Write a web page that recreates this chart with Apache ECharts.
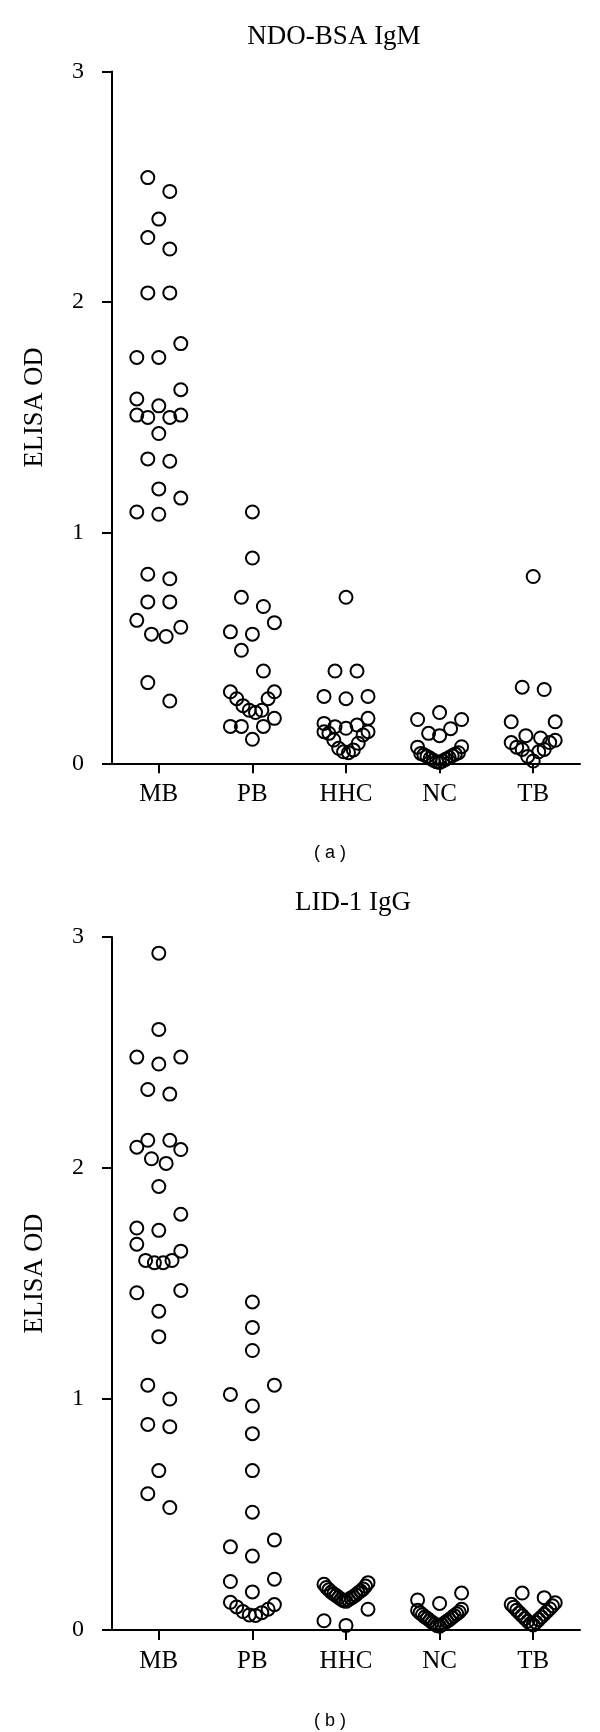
<!DOCTYPE html>
<html>
<head>
<meta charset="utf-8">
<script src="https://cdn.jsdelivr.net/npm/echarts@6/dist/echarts.min.js"></script>
<style>
html,body{margin:0;padding:0;background:#ffffff;}
#chart{width:600px;height:1732px;}
</style>
</head>
<body>
<div id="chart"></div>
<script>
// ---------- data ----------
const categories = ['MB', 'PB', 'HHC', 'NC', 'TB'];
const yTickValues = [0, 1, 2, 3];
const panelTitles = ['NDO-BSA IgM', 'LID-1 IgG'];
const panelLetters = ['( a )', '( b )'];
const yAxisTitle = 'ELISA OD';

// (a) NDO-BSA IgM
const ndoMB = [2.54, 2.48, 2.36, 2.28, 2.23, 2.04, 2.04, 1.82, 1.76, 1.76, 1.62, 1.58, 1.55, 1.51, 1.50, 1.50, 1.51, 1.43, 1.31, 1.32, 1.19, 1.15, 1.08, 1.09, 0.82, 0.80, 0.70, 0.70, 0.62, 0.56, 0.55, 0.59, 0.35, 0.27];
const ndoPB = [1.09, 0.89, 0.72, 0.68, 0.61, 0.57, 0.56, 0.49, 0.40, 0.31, 0.31, 0.28, 0.28, 0.25, 0.23, 0.22, 0.23, 0.195, 0.16, 0.16, 0.16, 0.104];
const ndoHHC = [0.72, 0.40, 0.40, 0.29, 0.28, 0.29, 0.195, 0.173, 0.166, 0.159, 0.152, 0.137, 0.137, 0.130, 0.123, 0.101, 0.087, 0.065, 0.058, 0.050, 0.046];
const ndoNC = [0.22, 0.19, 0.19, 0.15, 0.13, 0.12, 0.072, 0.07, 0.046, 0.043, 0.04, 0.037, 0.033, 0.03, 0.025, 0.022, 0.018, 0.013, 0.01, 0.007, 0.004];
const ndoTB = [0.81, 0.33, 0.32, 0.18, 0.18, 0.12, 0.11, 0.10, 0.09, 0.09, 0.07, 0.06, 0.06, 0.05, 0.03, 0.01];

// (b) LID-1 IgG
const lidMB = [2.93, 2.60, 2.48, 2.45, 2.48, 2.34, 2.32, 2.12, 2.12, 2.09, 2.08, 2.04, 2.02, 1.92, 1.80, 1.74, 1.73, 1.67, 1.64, 1.60, 1.59, 1.59, 1.60, 1.47, 1.46, 1.38, 1.27, 1.06, 1.00, 0.89, 0.88, 0.69, 0.59, 0.53];
const lidPB = [1.42, 1.31, 1.21, 1.06, 1.02, 0.97, 0.85, 0.69, 0.51, 0.39, 0.36, 0.32, 0.22, 0.21, 0.165, 0.12, 0.11, 0.10, 0.09, 0.08, 0.075, 0.065, 0.063];
const lidHHC = [0.205, 0.198, 0.19, 0.184, 0.178, 0.174, 0.169, 0.164, 0.161, 0.156, 0.152, 0.149, 0.144, 0.141, 0.138, 0.133, 0.131, 0.127, 0.124, 0.09, 0.04, 0.02];
const lidNC = [0.16, 0.13, 0.115, 0.09, 0.085, 0.078, 0.074, 0.07, 0.066, 0.062, 0.057, 0.053, 0.05, 0.045, 0.041, 0.038, 0.033, 0.03, 0.026, 0.023, 0.019, 0.016];
const lidTB = [0.16, 0.14, 0.118, 0.111, 0.105, 0.099, 0.092, 0.086, 0.08, 0.074, 0.068, 0.062, 0.056, 0.05, 0.045, 0.038, 0.033, 0.027, 0.022];

const panelA = [ndoMB, ndoPB, ndoHHC, ndoNC, ndoTB];
const panelB = [lidMB, lidPB, lidHHC, lidNC, lidTB];

// ---------- chart ----------
const serif = '"Liberation Serif", "Times New Roman", serif';
const sans = '"Liberation Sans", Arial, sans-serif';
const black = '#000000';

const chart = echarts.init(document.getElementById('chart'), null, {renderer: 'canvas'});

const grids = [
  {left: 112, top: 71.5, width: 468, height: 691.8},
  {left: 112, top: 937, width: 468, height: 693}
];

function catAxis(gi) {
  return {
    type: 'category', gridIndex: gi, data: categories, boundaryGap: true,
    axisLine: {show: true, onZero: false, lineStyle: {color: black, width: 2}},
    axisTick: {show: true, alignWithLabel: true, length: 10, lineStyle: {color: black, width: 2}},
    axisLabel: {color: black, fontFamily: serif, fontSize: 25, margin: 19},
    splitLine: {show: false}
  };
}
function posAxis(gi) {
  return {type: 'value', gridIndex: gi, min: 0, max: categories.length, show: false, splitLine: {show: false}};
}
function valAxis(gi) {
  return {
    type: 'value', gridIndex: gi, min: yTickValues[0], max: yTickValues[yTickValues.length - 1], interval: 1,
    axisLine: {show: true, lineStyle: {color: black, width: 2}},
    axisTick: {show: true, length: 10, lineStyle: {color: black, width: 2}},
    axisLabel: {color: black, fontFamily: serif, fontSize: 24, margin: 28},
    splitLine: {show: false},
    name: yAxisTitle, nameLocation: 'middle', nameGap: 63, nameRotate: 90,
    nameTextStyle: {color: black, fontFamily: serif, fontSize: 26.5, padding: [0, 0, 0, 20]}
  };
}

const baseOption = {
  animation: false,
  backgroundColor: '#ffffff',
  title: [
    {text: panelTitles[0], left: 329, top: 18, textAlign: 'center',
     textStyle: {fontFamily: serif, fontSize: 27, fontWeight: 'normal', color: black}},
    {text: panelTitles[1], left: 348, top: 884, textAlign: 'center',
     textStyle: {fontFamily: serif, fontSize: 27, fontWeight: 'normal', color: black}},
    {text: panelLetters[0], left: 325, top: 839, textAlign: 'center',
     textStyle: {fontFamily: sans, fontSize: 18, fontWeight: 'normal', color: black}},
    {text: panelLetters[1], left: 325, top: 1707, textAlign: 'center',
     textStyle: {fontFamily: sans, fontSize: 18, fontWeight: 'normal', color: black}}
  ],
  grid: grids,
  xAxis: [catAxis(0), posAxis(0), catAxis(1), posAxis(1)],
  yAxis: [valAxis(0), valAxis(1)],
  series: []
};
chart.setOption(baseOption);

// Column-scatter spreading (Prism-like): points are grouped into rows of similar
// value; each row is spread symmetrically around the category centre.
function spreadOffsets(values, pxPerX, pxPerY) {
  const ROW_PX = 22.4, MAX_HALF = 22, MAX_STEP = 22;
  const order = values.map((v, i) => i).sort((a, b) => values[a] - values[b]);
  const off = new Array(values.length).fill(0);
  let i = 0;
  while (i < order.length) {
    const start = values[order[i]];
    let j = i;
    while (j < order.length && (values[order[j]] - start) * pxPerY <= ROW_PX + 1e-6) j++;
    const n = j - i;
    const step = n > 1 ? Math.min(MAX_STEP, 2 * MAX_HALF / (n - 1)) : 0;
    for (let k = 0; k < n; k++) {
      let slot;
      if (n % 2 === 1) slot = k === 0 ? 0 : (k % 2 === 1 ? -Math.ceil(k / 2) : Math.ceil(k / 2));
      else slot = (k % 2 === 0 ? 1 : -1) * (Math.floor(k / 2) + 0.5);
      off[order[i + k]] = slot * step / pxPerX;
    }
    i = j;
  }
  return off;
}

function buildSeries(groups, xAxisIndex, yAxisIndex) {
  const pxPerX = chart.convertToPixel({xAxisIndex: xAxisIndex}, 1) - chart.convertToPixel({xAxisIndex: xAxisIndex}, 0);
  const pxPerY = chart.convertToPixel({yAxisIndex: yAxisIndex}, 0) - chart.convertToPixel({yAxisIndex: yAxisIndex}, 1);
  return groups.map((vals, gi) => {
    const off = spreadOffsets(vals, pxPerX, pxPerY);
    return {
      type: 'scatter', name: categories[gi], xAxisIndex: xAxisIndex, yAxisIndex: yAxisIndex,
      symbol: 'circle', symbolSize: 13,
      itemStyle: {color: 'rgba(255,255,255,0)', borderColor: black, borderWidth: 2, opacity: 1},
      emphasis: {disabled: true},
      silent: true,
      data: vals.map((v, k) => [gi + 0.5 + off[k], v])
    };
  });
}

const series = buildSeries(panelA, 1, 0).concat(buildSeries(panelB, 3, 1));
chart.setOption({series: series});
</script>
</body>
</html>
